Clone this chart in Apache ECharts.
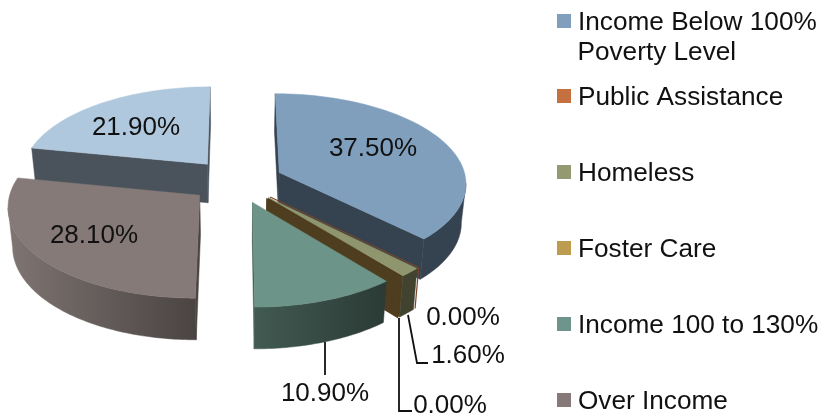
<!DOCTYPE html>
<html>
<head>
<meta charset="utf-8">
<style>html,body{margin:0;padding:0;background:#fff}#c{width:820px;height:420px}</style>
<script src="https://cdn.jsdelivr.net/npm/echarts@6/dist/echarts.min.js"></script>
</head>
<body>
<div id="c"></div>
<script>
// ---- data ----
const categories = ['Income Below 100% Poverty Level','Public Assistance','Homeless','Foster Care','Income 100 to 130%','Over Income','Other'];
const values = [37.5, 0, 1.6, 0, 10.9, 28.1, 21.9];
const valueLabels = ['37.50%','0.00%','1.60%','0.00%','10.90%','28.10%','21.90%'];

// ---- styles and layout ----
const legendColors = ['#7f9fbd','#c4703f','#95996f','#bd9c50','#6d958b','#857a78','#b0c8dd'];
const topColors    = ['#7f9fbd','#7a4526','#8f966e','#4e3d1f','#6c9488','#857a78','#b0c8dd'];
const wallColors   = [['#35424f','#35424f'],['#7a4526','#7a4526'],['#41432f','#41432f'],['#4e3d1f','#4e3d1f'],['#415a52','#2b3a35'],['#7f7573','#4a4442'],['#4a535c','#4a535c']];
const radialColors = ['#35424f','#7a4526','#4e3d1f','#4e3d1f','#3f564e','#4a4442','#4a535c'];
const paintOrder = [0,6,5,2,1,3,4];
const labelAnchors = [[373,149],[463,318],[468,356],[450,406],[325,394],[94,236],[136,128]];
const leaders = {2:[[408,315],[417,363],[428,363]],3:[[399,318],[399,411],[412,411]],4:[[325,342],[325,375]]};
const legendTops = [10,85,161,237,313,389];

const CX=236.5, CY=181, A=187, B=88.8, P=0.105, EXPLODE=0.25, DEPTH=39, BOTTOM_X=0.98;
const FONT='Liberation Sans, Arial, sans-serif';
const rad=d=>d*Math.PI/180;

function project(X,Y,drop){
  const w=1+P*Y;
  let x=CX+A*X/w, y=CY-B*Y/w;
  if(drop){ x=CX+(x-CX)*BOTTOM_X; y+=DEPTH/Math.sqrt(w); }
  return [x,y];
}

let running=0;
const spans=values.map(v=>{const s=running;running+=v;return [s*3.6,running*3.6];});

function renderSlice(i){
  const [a0,a1]=spans[i];
  const mid=rad((a0+a1)/2);
  const ox=EXPLODE*Math.sin(mid), oy=EXPLODE*Math.cos(mid);
  const pt=(deg,r,drop)=>project(ox+r*Math.sin(rad(deg)),oy+r*Math.cos(rad(deg)),drop);
  const rimAngles=[];
  const n=Math.max(1,Math.ceil(a1-a0));
  for(let k=0;k<=n;k++) rimAngles.push(a0+(a1-a0)*k/n);
  const children=[];
  const apexT=pt(a0,0,false), apexB=pt(a0,0,true);
  const poly=(points,fill,z2)=>children.push({type:'polygon',shape:{points},z2:z2||0,style:{fill,stroke:fill,lineWidth:0.5}});
  const isZero=values[i]===0;
  const midPt=project(ox+0.5*Math.sin(mid),oy+0.5*Math.cos(mid),false);
  const wallShows=deg=>{
    if(isZero) return true;
    const e=pt(deg,1,false);
    const ex=e[0]-apexT[0], ey=e[1]-apexT[1];
    const crossFace=ex*(midPt[1]-apexT[1])-ey*(midPt[0]-apexT[0]);
    const eb=pt(deg,1,true);
    const crossDrop=ex*(eb[1]-apexT[1])-ey*(eb[0]-apexT[0]);
    return crossFace*crossDrop<0;
  };

  if(i===1){
    // zero-width slice seen edge on: only its outline
    children.push({type:'polyline',z2:5,shape:{points:[apexT,pt(a0,1,false),pt(a0,1,true)]},style:{stroke:topColors[i],lineWidth:1.2,fill:null}});
  } else {
    if(wallShows(a0)) poly([apexT,pt(a0,1,false),pt(a0,1,true),apexB],radialColors[i]);
    if(wallShows(a1)) poly([apexT,pt(a1,1,false),pt(a1,1,true),apexB],radialColors[i]);
    if(!isZero){
      const upper=rimAngles.map(d=>pt(d,1,false));
      const lower=rimAngles.map(d=>pt(d,1,true));
      const xs=upper.map(p=>p[0]);
      const x0=Math.min(...xs), x1=Math.max(...xs);
      const wallFill={type:'linear',x:x0,y:0,x2:x1,y2:0,global:true,
        colorStops:[{offset:0,color:wallColors[i][0]},{offset:1,color:wallColors[i][1]}]};
      // the rim faces the viewer only where it runs right to left on screen
      let first=-1,last=-1;
      for(let k=0;k<upper.length-1;k++){
        if(upper[k+1][0]-upper[k][0]<0){ if(first<0) first=k; last=k+1; }
      }
      if(first>=0){
        poly(upper.slice(first,last+1).concat(lower.slice(first,last+1).reverse()),wallFill);
      }
      poly([apexT].concat(upper),topColors[i],1);
    }
  }
  if(leaders[i]) children.push({type:'polyline',z2:8,shape:{points:leaders[i]},style:{stroke:'#111',lineWidth:1.8,fill:null}});
  children.push({type:'text',z2:10,style:{text:valueLabels[i],x:labelAnchors[i][0],y:labelAnchors[i][1],
    fill:'#111',font:'26px '+FONT,textAlign:'center',textVerticalAlign:'middle'}});
  return {type:'group',children};
}

const series=paintOrder.map((i,order)=>({
  type:'custom',
  name:categories[i],
  coordinateSystem:'none',
  silent:true,
  z:2+order,
  itemStyle:{color:legendColors[i]},
  data:[[values[i]]],
  renderItem:()=>renderSlice(i)
}));

const legend=legendTops.map((top,i)=>({
  data:[categories[i]],
  orient:'vertical',
  left:557, top:top, padding:0,
  itemWidth:14, itemHeight:14,
  icon:'rect',
  selectedMode:false,
  formatter:n=>'{t|'+(i===0?'Income Below 100%':n)+'}',
  textStyle:{fontFamily:FONT,fontSize:26.2,color:'#111',
    rich:{t:{fontFamily:FONT,fontSize:26.2,color:'#111',padding:[4,0,0,2]}}}
}));

const chart=echarts.init(document.getElementById('c'),null,{renderer:'canvas'});
chart.setOption({
  animation:false,
  backgroundColor:'#fff',
  legend,
  series,
  graphic:[{type:'text',left:577.5,top:40,style:{text:'Poverty Level',fill:'#111',font:'26.2px '+FONT}}]
});
</script>
</body>
</html>
